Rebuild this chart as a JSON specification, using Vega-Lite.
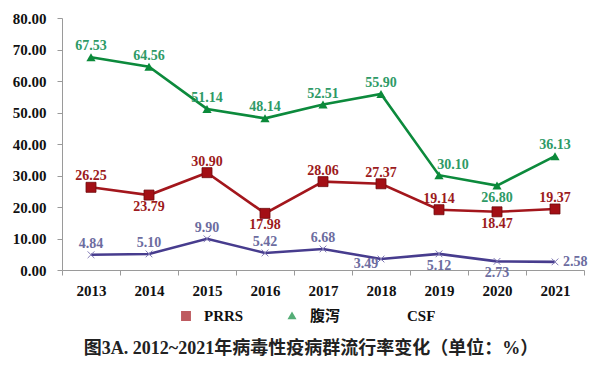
{
  "$schema": "https://vega.github.io/schema/vega-lite/v6.json",
  "width": 522,
  "height": 252,
  "autosize": {"type": "none"},
  "padding": {"left": 62, "top": 18, "right": 16, "bottom": 95},
  "background": "white",
  "title": {
    "text": "图3A. 2012~2021年病毒性疫病群流行率变化（单位：%）",
    "orient": "bottom",
    "anchor": "middle",
    "dx": -12,
    "offset": 16,
    "font": "Liberation Serif, Noto Sans CJK SC",
    "fontSize": 18,
    "fontWeight": "bold",
    "color": "#222222"
  },
  "data": {
    "values": [
      {"year": 2013, "series": "PRRS", "value": 26.25},
      {"year": 2014, "series": "PRRS", "value": 23.79},
      {"year": 2015, "series": "PRRS", "value": 30.90},
      {"year": 2016, "series": "PRRS", "value": 17.98},
      {"year": 2017, "series": "PRRS", "value": 28.06},
      {"year": 2018, "series": "PRRS", "value": 27.37},
      {"year": 2019, "series": "PRRS", "value": 19.14},
      {"year": 2020, "series": "PRRS", "value": 18.47},
      {"year": 2021, "series": "PRRS", "value": 19.37},
      {"year": 2013, "series": "腹泻", "value": 67.53},
      {"year": 2014, "series": "腹泻", "value": 64.56},
      {"year": 2015, "series": "腹泻", "value": 51.14},
      {"year": 2016, "series": "腹泻", "value": 48.14},
      {"year": 2017, "series": "腹泻", "value": 52.51},
      {"year": 2018, "series": "腹泻", "value": 55.90},
      {"year": 2019, "series": "腹泻", "value": 30.10},
      {"year": 2020, "series": "腹泻", "value": 26.80},
      {"year": 2021, "series": "腹泻", "value": 36.13},
      {"year": 2013, "series": "CSF", "value": 4.84},
      {"year": 2014, "series": "CSF", "value": 5.10},
      {"year": 2015, "series": "CSF", "value": 9.90},
      {"year": 2016, "series": "CSF", "value": 5.42},
      {"year": 2017, "series": "CSF", "value": 6.68},
      {"year": 2018, "series": "CSF", "value": 3.49},
      {"year": 2019, "series": "CSF", "value": 5.12},
      {"year": 2020, "series": "CSF", "value": 2.73},
      {"year": 2021, "series": "CSF", "value": 2.58}
    ]
  },
  "encoding": {
    "x": {
      "field": "year",
      "type": "ordinal",
      "scale": {"type": "band", "paddingInner": 0, "paddingOuter": 0},
      "axis": {
        "title": null,
        "labelAngle": 0,
        "labelFont": "Liberation Serif",
        "labelFontSize": 15,
        "labelFontWeight": "bold",
        "labelColor": "#111111",
        "labelPadding": 8,
        "tickBand": "extent",
        "tickSize": 5,
        "tickColor": "#9a9a9a",
        "domainColor": "#9a9a9a",
        "grid": false
      }
    },
    "y": {
      "field": "value",
      "type": "quantitative",
      "scale": {"domain": [0, 80], "nice": false},
      "axis": {
        "title": null,
        "values": [0, 10, 20, 30, 40, 50, 60, 70, 80],
        "format": ".2f",
        "labelFont": "Liberation Serif",
        "labelFontSize": 15,
        "labelFontWeight": "bold",
        "labelColor": "#111111",
        "labelPadding": 11,
        "tickSize": 5,
        "tickColor": "#9a9a9a",
        "domainColor": "#9a9a9a",
        "grid": false
      }
    }
  },
  "layer": [
    {
      "mark": {"type": "line", "strokeWidth": 2.6},
      "encoding": {
        "stroke": {
          "field": "series",
          "type": "nominal",
          "scale": {"domain": ["CSF", "PRRS", "腹泻"], "range": ["#473c8e", "#a3161c", "#0c8a3c"]},
          "legend": null
        }
      }
    },
    {
      "transform": [{"filter": "datum.series == 'PRRS'"}],
      "mark": {"type": "point", "shape": "square", "filled": true, "size": 100, "fill": "#a30f15", "stroke": "#6e0a0e", "strokeWidth": 0.8, "opacity": 1}
    },
    {
      "transform": [{"filter": "datum.series == '腹泻'"}],
      "mark": {"type": "point", "shape": "triangle-up", "filled": true, "size": 85, "fill": "#0b8a3a", "opacity": 1}
    },
    {
      "transform": [{"filter": "datum.series == 'CSF'"}],
      "mark": {"type": "point", "shape": "M-1,-1L1,1M-1,1L1,-1", "filled": false, "size": 45, "stroke": "#7f78b4", "strokeWidth": 1, "opacity": 1}
    },
    {
      "mark": {"type": "point", "filled": true, "size": 0},
      "encoding": {
        "color": {
          "field": "series",
          "type": "nominal",
          "scale": {"domain": ["PRRS", "腹泻", "CSF"], "range": ["#a3161c", "#0c8a3c", "#473c8e"]},
          "legend": {
            "title": null,
            "orient": "none",
            "legendX": 108,
            "legendY": 282,
            "direction": "horizontal",
            "symbolSize": 900,
            "symbolStrokeWidth": 1.5,
            "labelOffset": 2,
            "columnPadding": 32,
            "encode": {
              "symbols": {
                "stroke": {"value": {"expr": "scale('color', datum.value)"}},
                "strokeWidth": {"value": 1.5}
              }
            }
          }
        },
        "shape": {
          "field": "series",
          "type": "nominal",
          "scale": {
            "domain": ["PRRS", "腹泻", "CSF"],
            "range": [
              "M-1,0H1M-0.33,-0.33H0.33V0.33H-0.33Z",
              "M-1,0H1M0,-0.3L0.3,0.22H-0.3Z",
              "M-1,0H1M-0.22,-0.22L0.22,0.22M-0.22,0.22L0.22,-0.22"
            ]
          },
          "legend": {
            "title": null,
            "orient": "none",
            "legendX": 108,
            "legendY": 282,
            "direction": "horizontal",
            "symbolSize": 900,
            "symbolStrokeWidth": 1.5,
            "labelOffset": 2,
            "columnPadding": 32,
            "encode": {
              "symbols": {
                "stroke": {"value": {"expr": "scale('color', datum.value)"}},
                "strokeWidth": {"value": 1.5}
              }
            }
          }
        }
      }
    },
    {
      "transform": [{"filter": "!((datum.series == 'PRRS' && (datum.year == 2014 || datum.year == 2016 || datum.year == 2020)) || (datum.series == '腹泻' && (datum.year == 2019 || datum.year == 2020)) || (datum.series == 'CSF' && datum.year >= 2018))"}],
      "mark": {"type": "text", "dy": -11, "baseline": "middle", "font": "Liberation Serif", "fontSize": 14, "fontWeight": "bold"},
      "encoding": {
        "text": {"field": "value", "type": "quantitative", "format": ".2f"},
        "fill": {
          "field": "series",
          "type": "nominal",
          "scale": {"domain": ["腹泻", "CSF", "PRRS"], "range": ["#2e9a66", "#6c6ca0", "#9c1a20"]},
          "legend": null
        }
      }
    },
    {
      "transform": [{"filter": "(datum.series == 'PRRS' && (datum.year == 2014 || datum.year == 2016 || datum.year == 2020)) || (datum.series == '腹泻' && datum.year == 2020) || (datum.series == 'CSF' && (datum.year == 2019 || datum.year == 2020))"}],
      "mark": {"type": "text", "dy": 12, "baseline": "middle", "font": "Liberation Serif", "fontSize": 14, "fontWeight": "bold"},
      "encoding": {
        "text": {"field": "value", "type": "quantitative", "format": ".2f"},
        "fill": {
          "field": "series",
          "type": "nominal",
          "scale": {"domain": ["腹泻", "CSF", "PRRS"], "range": ["#2e9a66", "#6c6ca0", "#9c1a20"]},
          "legend": null
        }
      }
    },
    {
      "transform": [{"filter": "datum.series == '腹泻' && datum.year == 2019"}],
      "mark": {"type": "text", "dx": 14, "dy": -10, "baseline": "middle", "font": "Liberation Serif", "fontSize": 14, "fontWeight": "bold"},
      "encoding": {
        "text": {"field": "value", "type": "quantitative", "format": ".2f"},
        "fill": {
          "field": "series",
          "type": "nominal",
          "scale": {"domain": ["腹泻", "CSF", "PRRS"], "range": ["#2e9a66", "#6c6ca0", "#9c1a20"]},
          "legend": null
        }
      }
    },
    {
      "transform": [{"filter": "datum.series == 'CSF' && datum.year == 2018"}],
      "mark": {"type": "text", "dx": -15, "dy": 5, "baseline": "middle", "font": "Liberation Serif", "fontSize": 14, "fontWeight": "bold"},
      "encoding": {
        "text": {"field": "value", "type": "quantitative", "format": ".2f"},
        "fill": {
          "field": "series",
          "type": "nominal",
          "scale": {"domain": ["腹泻", "CSF", "PRRS"], "range": ["#2e9a66", "#6c6ca0", "#9c1a20"]},
          "legend": null
        }
      }
    },
    {
      "transform": [{"filter": "datum.series == 'CSF' && datum.year == 2021"}],
      "mark": {"type": "text", "dx": 8, "dy": 0, "align": "left", "baseline": "middle", "font": "Liberation Serif", "fontSize": 14, "fontWeight": "bold"},
      "encoding": {
        "text": {"field": "value", "type": "quantitative", "format": ".2f"},
        "fill": {
          "field": "series",
          "type": "nominal",
          "scale": {"domain": ["腹泻", "CSF", "PRRS"], "range": ["#2e9a66", "#6c6ca0", "#9c1a20"]},
          "legend": null
        }
      }
    }
  ],
  "config": {
    "view": {"stroke": null},
    "legend": {
      "labelFont": "Liberation Serif, Noto Sans CJK SC",
      "labelFontSize": 15,
      "labelFontWeight": "bold",
      "labelColor": "#111111"
    }
  }
}
